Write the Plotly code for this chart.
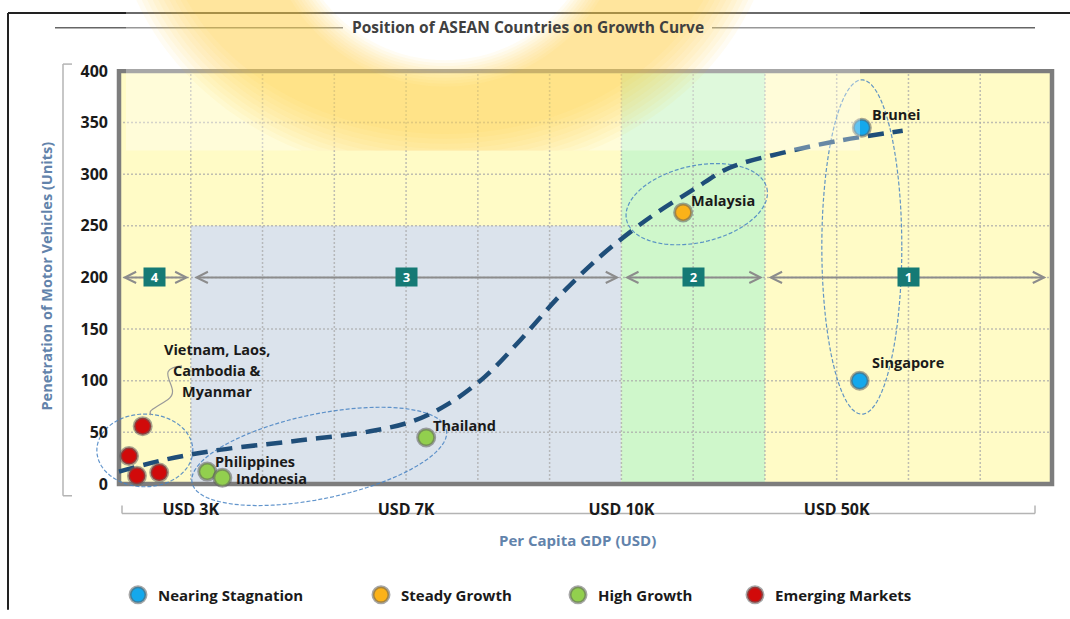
import math
import plotly.graph_objects as go

# ---------------- data ----------------
categories = ["Nearing Stagnation", "Steady Growth", "High Growth", "Emerging Markets"]
cat_colors = ["#14a8ec", "#fbb219", "#92cf4e", "#d10a0a"]

stag_names = ["Brunei", "Singapore"]
stag_x = [10.35, 10.32]
stag_y = [345, 100]

steady_names = ["Malaysia"]
steady_x = [7.86]
steady_y = [263]

high_names = ["Thailand", "Philippines", "Indonesia"]
high_x = [4.28, 1.23, 1.44]
high_y = [45, 12, 6]

emerg_names = ["Vietnam", "Laos", "Cambodia", "Myanmar"]
emerg_x = [0.33, 0.14, 0.25, 0.56]
emerg_y = [56, 27, 8, 11]

curve_x = [0.0, 0.67, 1.4, 2.5, 3.5, 4.1, 4.6, 5.1, 5.6, 6.15, 6.7, 7.16, 7.5, 8.0, 8.5, 9.2, 10.0, 10.92]
curve_y = [12, 24, 33, 42, 51, 61, 78, 104, 140, 183, 220, 246, 263, 285, 306, 320, 332, 342]

y_tickvals = [0, 50, 100, 150, 200, 250, 300, 350, 400]
x_tickvals = [1, 4, 7, 10]
x_ticklabels = ["USD 3K", "USD 7K", "USD 10K", "USD 50K"]

stage_labels = ["4", "3", "2", "1"]
stage_start = [0, 1, 7, 9]
stage_end = [1, 7, 9, 13]
stage_level = 200

grid_x = list(range(1, 13))
grid_y = [50, 100, 150, 200, 250, 300, 350]

# ---------------- layout geometry ----------------
W, H = 1070, 619
ML, MR, MT, MB = 87, 7, 69, 70
X_MIN, X_MAX, Y_MIN, Y_MAX = 0, 13, 0, 400
PX_X0, PX_X1, PX_Y0, PX_Y1 = 119, 1052, 491, 71     # frame edges in pixels
SX = (PX_X1 - PX_X0) / (X_MAX - X_MIN)
SY = (PX_Y0 - PX_Y1) / (Y_MAX - Y_MIN)
xr = [(ML - PX_X0) / SX, (W - MR - PX_X0) / SX]
yr = [(PX_Y0 - (H - MB)) / SY, (PX_Y0 - MT) / SY]
PW, PH = W - ML - MR, H - MT - MB


def pp(px, py):
    """pixel -> paper"""
    return (px - ML) / PW, (H - MB - py) / PH


def ellipse_path_data(cx, cy, rx_px, ry_px, ang_deg, n=90):
    a = math.radians(ang_deg)
    pts = []
    for i in range(n):
        t = 2 * math.pi * i / n
        dx = rx_px * math.cos(t) * math.cos(a) + ry_px * math.sin(t) * math.sin(a)
        dy = rx_px * math.cos(t) * math.sin(a) - ry_px * math.sin(t) * math.cos(a)
        pts.append((cx + dx / SX, cy + dy / SY))
    return "M " + " L ".join(f"{x:.4f},{y:.3f}" for x, y in pts) + " Z"


def ring_path_paper(cx, cy, rxo, ryo, rxi, ryi, ybot, n=140):
    """golden arc of the watermark, cut at ybot (bottom edge of the watermark image)"""
    outer, inner = [], []
    for i in range(n):
        t = 2 * math.pi * i / n
        outer.append(pp(cx + rxo * math.cos(t), min(cy + ryo * math.sin(t), ybot)))
        inner.append(pp(cx + rxi * math.cos(-t), min(cy + ryi * math.sin(-t), ybot)))
    s = "M " + " L ".join(f"{x:.4f},{y:.4f}" for x, y in outer) + " Z "
    s += "M " + " L ".join(f"{x:.4f},{y:.4f}" for x, y in inner) + " Z"
    return s


FONT = "'Open Sans', sans-serif"
fig = go.Figure()

# ---------------- traces ----------------
fig.add_trace(go.Scatter(
    x=curve_x, y=curve_y, mode="lines",
    line=dict(color="#1f4e79", width=4.5, dash="16px,9px", shape="spline", smoothing=1.0),
    showlegend=False, hoverinfo="skip"))

series = [
    (stag_names, stag_x, stag_y),
    (steady_names, steady_x, steady_y),
    (high_names, high_x, high_y),
    (emerg_names, emerg_x, emerg_y),
]
legend_ids = ["legend", "legend2", "legend3", "legend4"]
for (names, xs, ys), cat, col, lid in zip(series, categories, cat_colors, legend_ids):
    fig.add_trace(go.Scatter(
        x=xs, y=ys, mode="markers", name=cat, text=names,
        marker=dict(size=17, color=col, line=dict(color="rgba(95,95,95,0.55)", width=3)),
        legend=lid, cliponaxis=False))

# ---------------- shapes ----------------
shapes = []
for (x0, y0, x1, y1) in [(8, 12, 1070, 12), (8, 12, 8, 619)]:
    a0, b0 = pp(x0, y0); a1, b1 = pp(x1, y1)
    shapes.append(dict(type="line", xref="paper", yref="paper", x0=a0, y0=b0, x1=a1, y1=b1,
                       line=dict(color="#222222", width=2), layer="below"))
for (x0, x1) in [(55, 343), (712, 1035)]:
    a0, b0 = pp(x0, 27); a1, _ = pp(x1, 27)
    shapes.append(dict(type="line", xref="paper", yref="paper", x0=a0, y0=b0, x1=a1, y1=b0,
                       line=dict(color="#666666", width=1.5), layer="below"))
br_col = dict(color="#b4b4b4", width=1.5)
for seg in [((63, 64), (63, 503)), ((63, 64), (72, 64)), ((63, 503), (72, 503)),
            ((122, 521), (1035, 521)), ((122, 521), (122, 513)), ((1035, 521), (1035, 513))]:
    a0, b0 = pp(*seg[0]); a1, b1 = pp(*seg[1])
    shapes.append(dict(type="line", xref="paper", yref="paper", x0=a0, y0=b0, x1=a1, y1=b1,
                       line=br_col, layer="below"))

shapes.append(dict(type="rect", xref="x", yref="y", x0=X_MIN, x1=X_MAX, y0=Y_MIN, y1=Y_MAX,
                   fillcolor="#fffbc6", line=dict(width=0), layer="below"))
shapes.append(dict(type="rect", xref="x", yref="y", x0=1, x1=7, y0=Y_MIN, y1=250,
                   fillcolor="#dbe3ec", line=dict(width=0), layer="below"))
shapes.append(dict(type="rect", xref="x", yref="y", x0=7, x1=9, y0=Y_MIN, y1=Y_MAX,
                   fillcolor="#cff7cb", line=dict(width=0), layer="below"))
for gx in grid_x:
    shapes.append(dict(type="line", xref="x", yref="y", x0=gx, x1=gx, y0=Y_MIN, y1=Y_MAX,
                       line=dict(color="rgba(170,170,170,0.75)", width=1.5, dash="2px,2px"), layer="below"))
for gy in grid_y:
    shapes.append(dict(type="line", xref="x", yref="y", x0=X_MIN, x1=X_MAX, y0=gy, y1=gy,
                       line=dict(color="rgba(170,170,170,0.75)", width=1.5, dash="2px,2px"), layer="below"))
shapes.append(dict(type="rect", xref="x", yref="y", x0=X_MIN, x1=X_MAX, y0=Y_MIN, y1=Y_MAX,
                   line=dict(color="#7d7d7d", width=4.5), layer="below"))

ellipses = [
    (0.36, 32.5, 48, 37, 0),
    (2.79, 26.7, 130, 43, 12),
    (8.05, 271.0, 72, 39, 13),
    (10.35, 229.5, 40, 170, 0),
]
for cx, cy, rx, ry, ang in ellipses:
    shapes.append(dict(type="path", xref="x", yref="y", path=ellipse_path_data(cx, cy, rx, ry, ang),
                       line=dict(color="rgba(70,130,195,0.85)", width=1.2, dash="4px,2px"),
                       fillcolor="rgba(0,0,0,0)", layer="below"))


def dpt(px, py):
    return f"{(px - PX_X0) / SX:.4f},{(PX_Y0 - py) / SY:.3f}"


conn = f"M {dpt(182, 371)} C {dpt(150, 374)} {dpt(184, 394)} {dpt(168, 405)} S {dpt(148, 416)} {dpt(151, 421)}"
shapes.append(dict(type="path", xref="x", yref="y", path=conn,
                   line=dict(color="#9a9a9a", width=1.2), layer="above"))

# watermark: translucent white panel with a soft golden arc
WM_BOTTOM = 152
a0, b0 = pp(126, 0); a1, b1 = pp(860, WM_BOTTOM)
shapes.append(dict(type="rect", xref="paper", yref="paper", x0=a0, y0=b1, x1=a1, y1=b0,
                   fillcolor="rgba(255,255,255,0.33)", line=dict(width=0), layer="above"))
for k in range(10):
    eo = 30 - 5 * k
    ei = 10 - 3 * k
    shapes.append(dict(type="path", xref="paper", yref="paper",
                       path=ring_path_paper(445, -100, 300 + eo, 250 + eo, 165 - ei, 170 - ei, WM_BOTTOM),
                       fillcolor="rgba(247,194,40,0.055)", line=dict(width=0), layer="above"))

# ---------------- annotations ----------------
ann = []
lab_font = dict(family=FONT, size=14.5, color="#1a1a1a", weight="bold")
label_offsets = {
    "Brunei": (8, 13), "Singapore": (10, 18), "Malaysia": (6, 12),
    "Thailand": (5, 12), "Philippines": (6, 10), "Indonesia": (12, -1),
}
for names, xs, ys in series[:3]:
    for n, x, y in zip(names, xs, ys):
        dx, dy = label_offsets[n]
        ann.append(dict(x=x, y=y, xref="x", yref="y", text=n, showarrow=False, xanchor="left",
                        yanchor="middle", xshift=dx, yshift=dy, font=lab_font))
group_lines = ["Vietnam, Laos,", "Cambodia &", "Myanmar"]
for i, line in enumerate(group_lines):
    ann.append(dict(x=1.37, y=110, xref="x", yref="y", text=line, showarrow=False,
                    xanchor="center", yanchor="middle", yshift=21 - 21 * i, font=lab_font))

for lab, s0, s1 in zip(stage_labels, stage_start, stage_end):
    end = min(s1, 12.95)
    ann.append(dict(x=end, y=stage_level, ax=s0, ay=stage_level, xref="x", yref="y",
                    axref="x", ayref="y", text="", showarrow=True, arrowhead=5, startarrowhead=5,
                    arrowside="end+start", arrowsize=1.1, startarrowsize=1.1, arrowwidth=2,
                    arrowcolor="#8c8c8c", standoff=2, startstandoff=2))
    ann.append(dict(x=(s0 + s1) / 2, y=stage_level, xref="x", yref="y",
                    text="\u00a0\u00a0" + lab + "\u00a0\u00a0",
                    showarrow=False, bgcolor="#157a75", borderpad=0, xanchor="center", yanchor="middle",
                    font=dict(family=FONT, size=13, color="white", weight="bold")))

tx, ty = pp(528, 26)
ann.append(dict(x=tx, y=ty, xref="paper", yref="paper", text="Position of ASEAN Countries on Growth Curve",
                showarrow=False, xanchor="center", yanchor="middle",
                font=dict(family=FONT, size=15.5, color="#404040", weight="bold")))
tx, ty = pp(46, 280)
ann.append(dict(x=tx, y=ty, xref="paper", yref="paper", text="Penetration of Motor Vehicles (Units)",
                showarrow=False, textangle=-90, xanchor="center", yanchor="middle",
                font=dict(family=FONT, size=14.5, color="#6283ab", weight="bold")))
tx, ty = pp(577, 548)
ann.append(dict(x=tx, y=ty, xref="paper", yref="paper", text="Per Capita GDP (USD)",
                showarrow=False, xanchor="center", yanchor="middle",
                font=dict(family=FONT, size=15, color="#6283ab", weight="bold")))

# ---------------- legends ----------------
leg_px = [138, 381, 578, 755]
legends = {}
for lid, mx in zip(legend_ids, leg_px):
    lx, ly = pp(mx - 20, 604)
    legends[lid] = dict(x=lx, y=ly, xanchor="left", yanchor="middle", orientation="h",
                        bgcolor="rgba(0,0,0,0)", borderwidth=0,
                        font=dict(family=FONT, size=15, color="#1a1a1a", weight="bold"))

fig.update_layout(
    width=W, height=H,
    margin=dict(l=ML, r=MR, t=MT, b=MB, pad=0),
    paper_bgcolor="white", plot_bgcolor="rgba(0,0,0,0)",
    shapes=shapes, annotations=ann,
    xaxis=dict(range=xr, anchor="free", position=(H - MB - PX_Y0) / PH, showgrid=False, zeroline=False,
               showline=False, ticks="", tickvals=x_tickvals, ticktext=x_ticklabels,
               ticklabelstandoff=14, tickfont=dict(family=FONT, size=16, color="#1a1a1a", weight="bold"),
               fixedrange=True),
    yaxis=dict(range=yr, anchor="free", position=(PX_X0 - ML) / PW, showgrid=False, zeroline=False,
               showline=False, ticks="", tickvals=y_tickvals, ticktext=[str(v) for v in y_tickvals],
               ticklabelstandoff=11, tickfont=dict(family=FONT, size=16, color="#1a1a1a", weight="bold"),
               fixedrange=True),
    showlegend=True,
    **legends,
)

fig.write_html("out.html")
